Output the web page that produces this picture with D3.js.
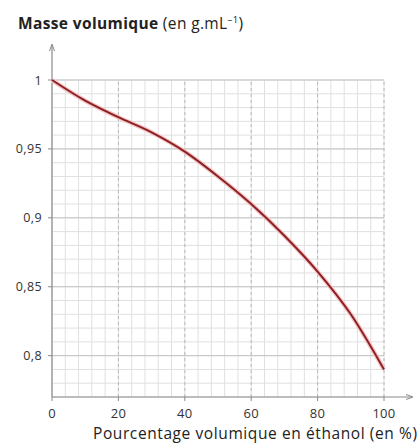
<!DOCTYPE html>
<html>
<head>
<meta charset="utf-8">
<script src="https://cdn.jsdelivr.net/npm/d3@7"></script>
<style>
  body { margin: 0; background: #fff; }
  svg { display: block; font-family: "Open Sans", sans-serif; }
</style>
</head>
<body>
<svg id="chart" width="419" height="445"></svg>
<script>
// data
const ethanol = [0, 10, 20, 30, 40, 50, 60, 70, 80, 90, 100];
const density = [1.0, 0.985, 0.973, 0.962, 0.948, 0.930, 0.910, 0.887, 0.861, 0.830, 0.790];
const xTicks = [0, 20, 40, 60, 80, 100];
const yTicks = [0.8, 0.85, 0.9, 0.95, 1];

const svg = d3.select("#chart");
const mLeft = 52, mRight = 384, mTop = 80, mBottom = 397;

const x = d3.scaleLinear().domain([0, 100]).range([mLeft, mRight]);
const y = d3.scaleLinear().domain([0.77, 1]).range([mBottom, mTop]);

const grid = svg.append("g");

// minor grid
grid.selectAll(".vmin")
  .data(d3.range(0, 101, 4))
  .enter().append("line")
  .attr("x1", d => x(d)).attr("x2", d => x(d))
  .attr("y1", y(0.77)).attr("y2", y(1))
  .attr("stroke", "#e0e0e0").attr("stroke-width", 1);

grid.selectAll(".hmin")
  .data(d3.range(77, 101).map(d => d / 100))
  .enter().append("line")
  .attr("x1", x(0)).attr("x2", x(100))
  .attr("y1", d => y(d)).attr("y2", d => y(d))
  .attr("stroke", "#e0e0e0").attr("stroke-width", 1);

// major grid
grid.selectAll(".vmaj")
  .data(xTicks.slice(1))
  .enter().append("line")
  .attr("x1", d => x(d)).attr("x2", d => x(d))
  .attr("y1", y(0.77)).attr("y2", y(1))
  .attr("stroke", "#b8b8b8").attr("stroke-dasharray", "3,3");

grid.selectAll(".hmaj")
  .data(yTicks)
  .enter().append("line")
  .attr("x1", x(0)).attr("x2", x(100))
  .attr("y1", d => y(d)).attr("y2", d => y(d))
  .attr("stroke", "#c4c4c4");

// axes
svg.append("line")
  .attr("x1", mLeft).attr("x2", mLeft)
  .attr("y1", mBottom).attr("y2", 45)
  .attr("stroke", "#8a8a8a").attr("stroke-width", 1.2);
svg.append("path")
  .attr("d", `M${mLeft - 2.5},51 L${mLeft},44 L${mLeft + 2.5},51`)
  .attr("fill", "none").attr("stroke", "#8a8a8a");

svg.append("line")
  .attr("x1", mLeft).attr("x2", 412)
  .attr("y1", mBottom).attr("y2", mBottom)
  .attr("stroke", "#8a8a8a").attr("stroke-width", 1.2);
svg.append("path")
  .attr("d", `M406,${mBottom - 2.5} L413,${mBottom} L406,${mBottom + 2.5}`)
  .attr("fill", "none").attr("stroke", "#8a8a8a");

// y tick marks + labels
svg.selectAll(".yt")
  .data(yTicks)
  .enter().append("line")
  .attr("x1", mLeft - 4).attr("x2", mLeft)
  .attr("y1", d => y(d)).attr("y2", d => y(d))
  .attr("stroke", "#8a8a8a");

const fmt = d => String(d).replace(".", ",");

svg.selectAll(".yl")
  .data(yTicks)
  .enter().append("text")
  .attr("x", 42).attr("y", d => y(d) + 4.5)
  .attr("text-anchor", "end")
  .attr("font-size", 12.5).attr("letter-spacing", 0.4).attr("fill", "#333")
  .text(fmt);

svg.selectAll(".xt")
  .data(xTicks)
  .enter().append("line")
  .attr("x1", d => x(d)).attr("x2", d => x(d))
  .attr("y1", mBottom).attr("y2", mBottom + 4)
  .attr("stroke", "#8a8a8a");

svg.selectAll(".xl")
  .data(xTicks)
  .enter().append("text")
  .attr("x", d => x(d)).attr("y", 418)
  .attr("text-anchor", "middle")
  .attr("font-size", 13).attr("letter-spacing", 0.3).attr("fill", "#333")
  .text(d => d);

// curve
const pts = ethanol.map((e, i) => [e, density[i]]);
const line = d3.line().x(d => x(d[0])).y(d => y(d[1])).curve(d3.curveMonotoneX);

svg.append("path")
  .datum(pts)
  .attr("d", line)
  .attr("fill", "none")
  .attr("stroke", "#f3c6c6").attr("stroke-width", 4.5);
svg.append("path")
  .datum(pts)
  .attr("d", line)
  .attr("fill", "none")
  .attr("stroke", "#8e1f24").attr("stroke-width", 2);

// titles
const t1 = svg.append("text").attr("x", 18).attr("y", 29)
  .attr("font-size", 15.5).attr("fill", "#222")
  .attr("textLength", 225).attr("lengthAdjust", "spacing");
t1.append("tspan").attr("font-weight", "bold").text("Masse volumique ");
t1.append("tspan").text("(en g.mL");
t1.append("tspan").attr("font-size", 9.5).attr("dy", -6).text("–1");
t1.append("tspan").attr("dy", 6).text(")");

const t2 = svg.append("text").attr("x", 93).attr("y", 439)
  .attr("font-size", 15.5).attr("fill", "#222")
  .attr("textLength", 324).attr("lengthAdjust", "spacing");
t2.append("tspan").text("Pourcentage volumique en éthanol ");
t2.append("tspan").text("(en %)");
</script>
</body>
</html>
